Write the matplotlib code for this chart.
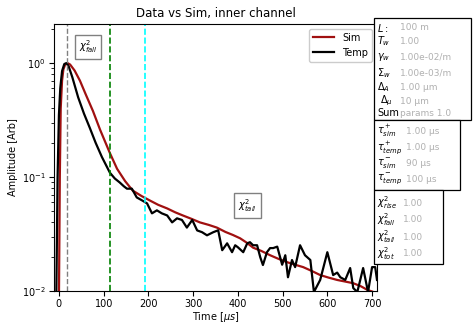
import numpy as np
import matplotlib
matplotlib.use("Agg")
import matplotlib.pyplot as plt
from matplotlib.patches import Rectangle

# ---- data ----
sim_t = [0, 2, 4, 7, 10, 14, 19, 25, 35, 47, 60, 76, 92, 114, 130, 148, 165, 185, 204,
         222, 242, 260, 277, 296, 315, 335, 353, 372, 389, 405, 420, 434, 452, 472, 490,
         510, 528, 546, 565, 584, 603, 622, 640, 658, 675, 690, 700, 711]
sim_y = [0.008, 0.10, 0.40, 0.70, 0.88, 0.97, 1.0, 0.97, 0.86, 0.70, 0.53, 0.38, 0.26,
         0.162, 0.118, 0.092, 0.076, 0.068, 0.062,
         0.057, 0.053, 0.049, 0.046, 0.043, 0.040, 0.038, 0.036, 0.033, 0.031, 0.029,
         0.0265, 0.024, 0.0225, 0.0206, 0.0192, 0.0179, 0.0170, 0.0162, 0.0150, 0.0138,
         0.0131, 0.0125, 0.0121, 0.0117, 0.0110, 0.0102, 0.0099, 0.0095]

temp_t = [-6, -3, 0, 3, 7, 12, 17, 22, 30, 43, 56, 69, 82, 96, 114, 125, 136, 145, 152,
          163, 174, 186, 197, 208, 219, 230, 242, 253, 264, 275, 286, 298, 309, 320, 331,
          345, 356, 365, 376, 387, 394, 400, 412, 421, 427, 434, 443, 450, 456, 465, 472,
          479, 488, 499, 506, 512, 521, 528, 539, 550, 562, 570, 584, 600, 613, 622, 629,
          640, 651, 658, 667, 680, 691, 700, 707, 711]
temp_y = [0.008, 0.10, 0.35, 0.60, 0.85, 0.98, 1.0, 0.93, 0.75, 0.50, 0.36, 0.27, 0.20,
          0.15, 0.109, 0.097, 0.0895, 0.083, 0.079, 0.079, 0.0662, 0.0623, 0.0587, 0.048,
          0.051, 0.048, 0.046, 0.040, 0.0434, 0.042, 0.036, 0.042, 0.034, 0.0328, 0.0308,
          0.0328, 0.0341, 0.0228, 0.0262, 0.0219, 0.0252, 0.0242, 0.0219, 0.0262, 0.0268,
          0.0252, 0.0252, 0.0198, 0.0169, 0.0219, 0.0238, 0.0238, 0.0245, 0.0170, 0.0206,
          0.0132, 0.0187, 0.0162, 0.0252, 0.0206, 0.0187, 0.0098, 0.0125, 0.0219, 0.0138,
          0.0145, 0.0132, 0.0125, 0.0159, 0.0106, 0.0098, 0.0159, 0.0098, 0.0162, 0.0162,
          0.0125]

peak_t = 18
fall_end_t = 115
tail_start_t = 193

left_labels = ["$L:$", "$T_w$", "$\\gamma_w$", "$\\Sigma_w$", "$\\Delta_A$", " $\\Delta_\\mu$", "Sum"]
left_values = ["100 m", "1.00", "1.00e-02/m", "1.00e-03/m", "1.00 µm", "10 µm", "params 1.0"]
tau_labels = ["$\\tau^+_{sim}$", "$\\tau^+_{temp}$", "$\\tau^-_{sim}$", "$\\tau^-_{temp}$"]
tau_values = ["1.00 µs", "1.00 µs", "90 µs", "100 µs"]
chi_labels = ["$\\chi^2_{rise}$", "$\\chi^2_{fall}$", "$\\chi^2_{tail}$", "$\\chi^2_{tot}$"]
chi_values = ["1.00", "1.00", "1.00", "1.00"]

# ---- figure ----
W, H = 475, 323
fig = plt.figure(figsize=(W/100, H/100), dpi=100)
ax = fig.add_axes([54/W, 1-291/H, (377-54)/W, (291-24)/H])

ax.plot(sim_t, sim_y, color="#a01010", lw=1.6, label="Sim")
ax.plot(temp_t, temp_y, color="black", lw=1.6, label="Temp")
ax.axvline(peak_t, color="gray", ls="--", lw=1)
ax.axvline(fall_end_t, color="green", ls="--", lw=1.2)
ax.axvline(tail_start_t, color="cyan", ls="--", lw=1.2)

ax.set_yscale("log")
ax.set_xlim(-11, 711)
ax.set_ylim(0.01, 2.2)
ax.set_xticks([0, 100, 200, 300, 400, 500, 600, 700])
ax.tick_params(labelsize=7, pad=2.5)
ax.tick_params(which="major", length=3.5)
ax.tick_params(which="minor", length=2)
ax.set_xlabel("Time [$\\mu s$]", fontsize=7, labelpad=0.5)
ax.set_ylabel("Amplitude [Arb]", fontsize=7, labelpad=3)
ax.set_title("Data vs Sim, inner channel", fontsize=8.5, pad=5)

ax.legend(loc="upper right", fontsize=7, framealpha=1, handlelength=2.2)

bprops = dict(boxstyle="square,pad=0.4", facecolor="white", edgecolor="gray")
ax.text(65, 1.38, "$\\chi^2_{fall}$", fontsize=7, ha="center", va="center", bbox=bprops)
ax.text(422, 0.056, "$\\chi^2_{tail}$", fontsize=7, ha="center", va="center", bbox=bprops)

def side_box(labels, values, top, bottom, right, ys, vx):
    fig.patches.append(Rectangle((374/W, 1-bottom/H), (right-374)/W, (bottom-top)/H,
                                 transform=fig.transFigure, facecolor="white",
                                 edgecolor="black", lw=0.9, zorder=5))
    for l, v, y in zip(labels, values, ys):
        fig.text(377/W, 1-y/H, l, fontsize=7, va="center", ha="left", zorder=6)
        fig.text(vx/W, 1-y/H, v, fontsize=6.5, va="center", ha="left",
                 color="#b0b0b0", zorder=6)

side_box(left_labels, left_values, 18, 120, 471, [28, 41, 57, 73, 87, 101, 113], 400)
side_box(tau_labels, tau_values, 120, 190, 460, [131, 148, 163, 179], 406)
side_box(chi_labels, chi_values, 190, 264, 443, [203, 220, 237, 254], 403)

fig.savefig("out.png", dpi=100)
